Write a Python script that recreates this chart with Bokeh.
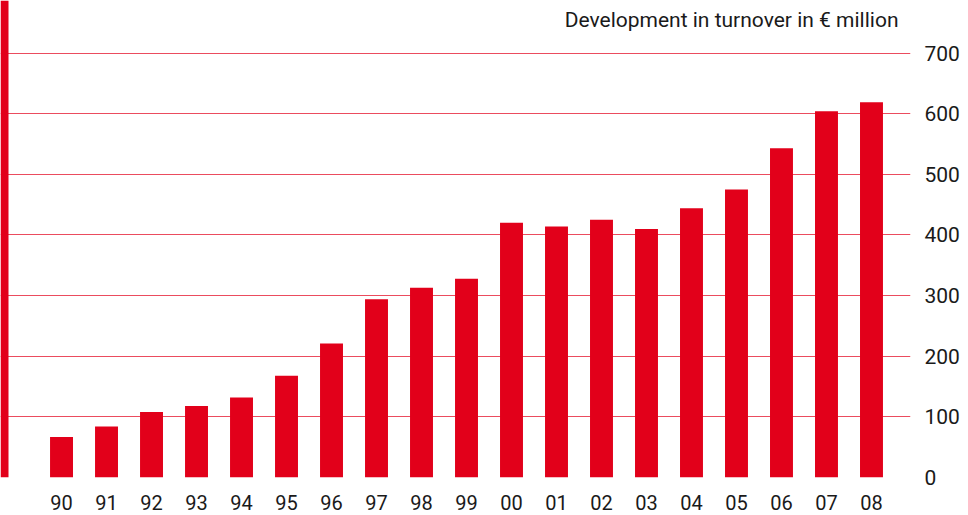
from bokeh.plotting import figure
from bokeh.models import FixedTicker, LinearAxis, Range1d, BoxAnnotation, ColumnDataSource
from bokeh.core.properties import value
from bokeh.embed import file_html
from bokeh.resources import INLINE

years = ["90", "91", "92", "93", "94", "95", "96", "97", "98", "99",
         "00", "01", "02", "03", "04", "05", "06", "07", "08"]
turnover = [67, 84, 108, 118, 132, 168, 221, 294, 313, 328,
            420, 414, 425, 410, 444, 475, 543, 604, 619]
y_ticks = [0, 100, 200, 300, 400, 500, 600, 700]
title_text = "Development in turnover in € million"

RED = "#e2001a"
FONT = "Roboto"
TXT = "#1a1a1a"

xs = list(range(len(years)))
src = ColumnDataSource(dict(x=xs, top=turnover))

p = figure(width=962, height=513, output_backend="svg", toolbar_location=None,
           x_range=Range1d(-1.356, 18.867), y_range=Range1d(0, 786.8),
           min_border_left=0, min_border_top=0, min_border_right=50,
           min_border_bottom=36, outline_line_color=None,
           x_axis_location=None, y_axis_location=None)

p.vbar(x="x", top="top", bottom=0, width=0.51, source=src,
       fill_color=RED, line_color=None)

# left thick red rule
p.add_layout(BoxAnnotation(right=-1.178, bottom=0, fill_color=RED, fill_alpha=1,
                           line_color=None, level="overlay"))

yaxis = LinearAxis(ticker=FixedTicker(ticks=y_ticks), axis_line_color=None,
                   major_tick_line_color=None, minor_tick_line_color=None,
                   major_label_standoff=8, major_label_text_font=FONT,
                   major_label_text_font_size="21px", major_label_text_color=TXT)
p.add_layout(yaxis, "right")

xaxis = LinearAxis(ticker=FixedTicker(ticks=xs), axis_line_color=None,
                   major_tick_line_color=None, minor_tick_line_color=None,
                   major_label_standoff=11, major_label_text_font=FONT,
                   major_label_text_font_size="20px", major_label_text_color=TXT,
                   major_label_overrides={i: y for i, y in enumerate(years)})
p.add_layout(xaxis, "below")

p.xgrid.visible = False
p.ygrid.ticker = FixedTicker(ticks=y_ticks)
p.ygrid.grid_line_color = RED
p.ygrid.grid_line_alpha = 0.7
p.ygrid.grid_line_width = 1

p.text(x=[18.6], y=[754], text=[title_text], text_align="right",
       text_baseline="middle", text_font=value(FONT), text_font_size="21px",
       text_color=TXT)

open("out.html", "w").write(file_html(p, INLINE))
